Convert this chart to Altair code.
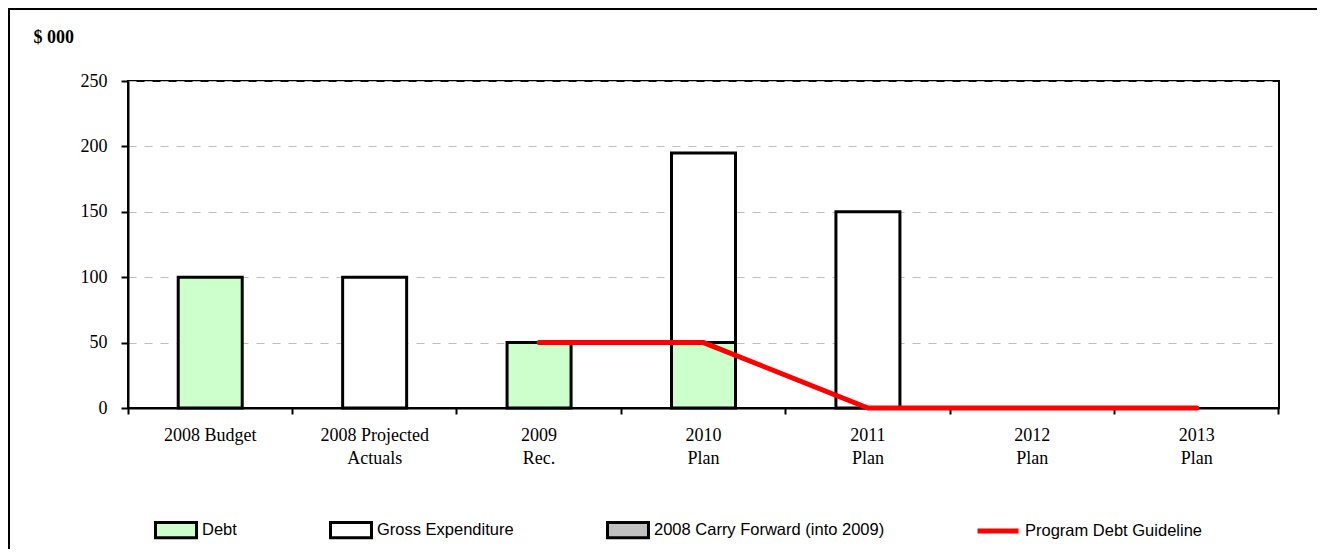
import altair as alt
import pandas as pd

categories = ["2008 Budget", "2008 Projected\nActuals", "2009\nRec.", "2010\nPlan",
              "2011\nPlan", "2012\nPlan", "2013\nPlan"]
debt = [100, 0, 50, 50, 0, 0, 0]
gross = [0, 100, 0, 145, 150, 0, 0]
carry = [0, 0, 0, 0, 0, 0, 0]
guideline = [None, None, 50, 50, 0, 0, 0]

series_names = ["Debt", "Gross Expenditure", "2008 Carry Forward (into 2009)"]
series_colors = ["#CCFFCC", "#FFFFFF", "#C0C0C0"]
line_name = "Program Debt Guideline"
y_ticks = [0, 50, 100, 150, 200, 250]

rows = []
for i, c in enumerate(categories):
    for k, (name, vals) in enumerate(zip(series_names, [debt, gross, carry])):
        rows.append({"cat": c, "series": name, "value": vals[i], "order": k})
bars_df = pd.DataFrame(rows)
line_df = pd.DataFrame({"cat": categories, "value": guideline, "series": [line_name] * len(categories)})

x_axis = alt.Axis(
    title=None, labelAngle=0, labelExpr="split(datum.label, '\\n')",
    labelFont="Liberation Serif", labelFontSize=18, labelColor="black",
    labelLineHeight=23, labelPadding=12, labelBaseline="top",
    bandPosition=1, tickExtra=True, tickSize=6, tickWidth=2, tickColor="black",
    domainColor="black", domainWidth=2, grid=False,
)
x_enc = alt.X("cat:N", sort=categories,
              scale=alt.Scale(paddingInner=0, paddingOuter=0), axis=x_axis)

y_axis = alt.Axis(
    values=y_ticks, title="$ 000", titleAngle=0, titleFont="Liberation Serif",
    titleFontSize=18, titleFontWeight="bold", titleColor="black",
    titleX=-95, titleY=-44, titleAlign="left", titleBaseline="middle",
    labelFont="Liberation Serif", labelFontSize=18, labelColor="black", labelPadding=14,
    tickSize=7, tickWidth=2, tickColor="black", domainColor="black", domainWidth=2,
    grid=True, gridColor="#BFBFBF", gridDash=[8, 8], gridWidth=1,
)
y_scale = alt.Scale(domain=[0, 250], nice=False)

frame_df = pd.DataFrame({"a": [0]})
frame_left = alt.Chart(frame_df).mark_rule(stroke="black", strokeWidth=2).encode(
    x=alt.value(-119), y=alt.value(-72), y2=alt.value(700)
)
frame_top = alt.Chart(frame_df).mark_rule(stroke="black", strokeWidth=2).encode(
    x=alt.value(-120), x2=alt.value(1189), y=alt.value(-72)
)

bars = alt.Chart(bars_df).transform_filter("datum.value > 0").mark_bar(
    size=64, stroke="black", strokeWidth=3
).encode(
    x=x_enc,
    y=alt.Y("value:Q", stack="zero", scale=y_scale, axis=y_axis),
    fill=alt.Fill("series:N", scale=alt.Scale(domain=series_names, range=series_colors),
                  legend=alt.Legend(
                      title=None, orient="none", legendX=26, legendY=427,
                      direction="horizontal", padding=0,
                      symbolType="M-1,-0.37H1V0.37H-1Z", symbolSize=1681,
                      symbolStrokeColor="black", symbolStrokeWidth=3,
                      labelFont="Liberation Sans", labelFontSize=16.5, labelColor="black",
                      labelOffset=4, labelLimit=0, columnPadding=87)),
    order=alt.Order("order:Q", sort="ascending"),
)

line = alt.Chart(line_df).transform_filter("isValid(datum.value)").mark_line(
    strokeWidth=5, strokeCap="round"
).encode(
    x=x_enc,
    y=alt.Y("value:Q", stack=None, scale=y_scale, axis=y_axis),
    stroke=alt.Stroke("series:N", scale=alt.Scale(domain=[line_name], range=["#FF0000"]),
                      legend=alt.Legend(
                          title=None, orient="none", legendX=847, legendY=427,
                          direction="horizontal", padding=0,
                          symbolType="stroke", symbolSize=1681, symbolStrokeWidth=5,
                          labelFont="Liberation Sans", labelFontSize=16.5, labelColor="black",
                          labelOffset=4, labelLimit=0)),
)

chart = alt.layer(frame_left, frame_top, bars, line).properties(
    width=1151, height=327,
    padding={"left": 120, "top": 73, "right": 40, "bottom": 141},
    autosize=alt.AutoSizeParams(type="none"),
).resolve_scale(
    fill="independent", stroke="independent"
).configure(
    font="Liberation Serif", background="white"
).configure_view(
    stroke="black", strokeWidth=2
)

chart.save("out.html", embed_options={"renderer": "svg", "actions": False})
